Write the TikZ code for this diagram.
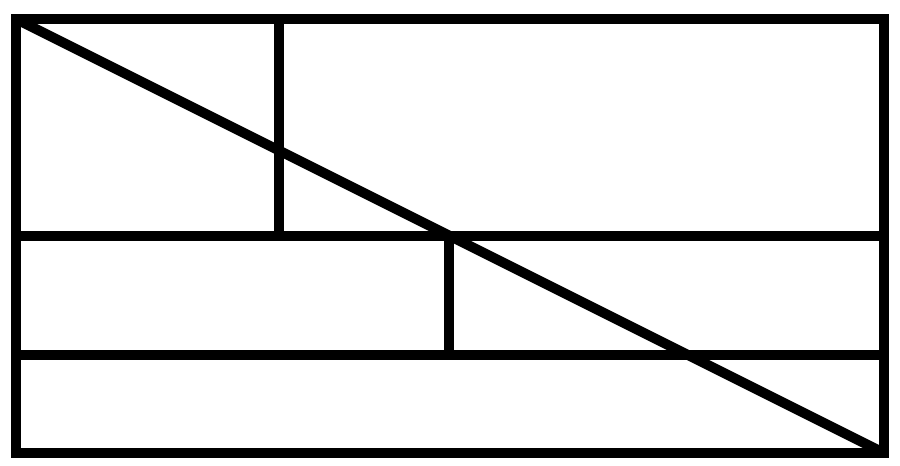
\documentclass[tikz,border=0pt]{standalone}
\begin{document}
\begin{tikzpicture}[x=1pt,y=-1pt,thickline/.style={line width=10pt,line join=miter,line cap=butt}]
\useasboundingbox (0,0) rectangle (900,466);
\coordinate (tl) at (16,19);
\coordinate (br) at (884,453);
\draw[thickline] (tl) rectangle (br);
\draw[thickline] (279,19) -- (279,236);
\draw[thickline] (16,236) -- (884,236);
\draw[thickline] (449,236) -- (449,355);
\draw[thickline] (16,355) -- (884,355);
\draw[thickline] (tl) -- (br);
\end{tikzpicture}
\end{document}
